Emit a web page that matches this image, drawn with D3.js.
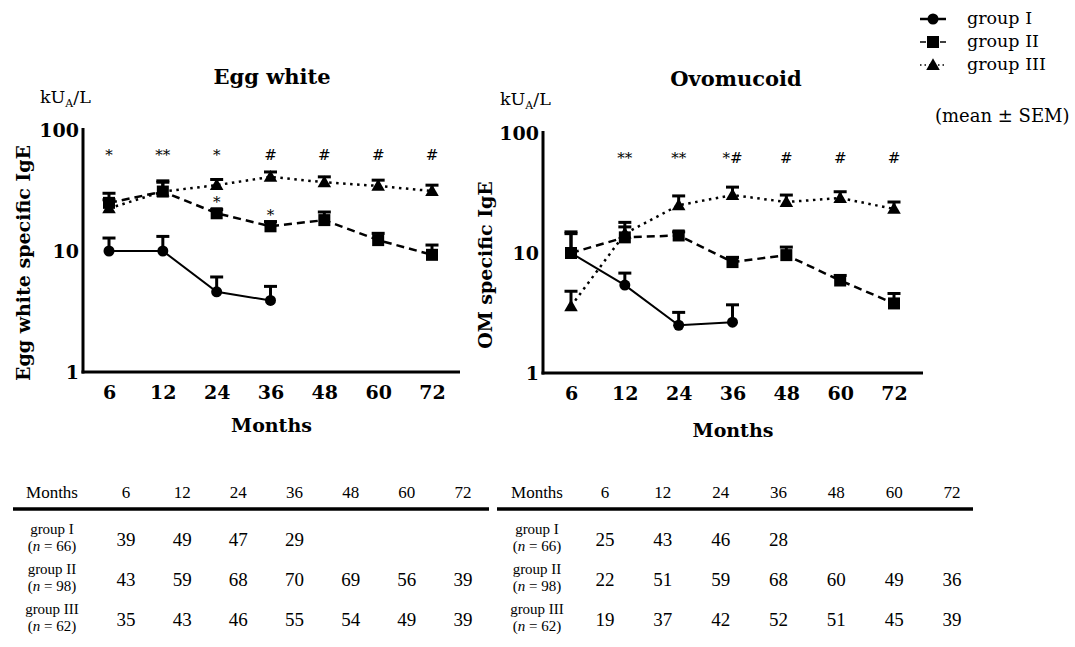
<!DOCTYPE html>
<html><head><meta charset="utf-8">
<script src="https://cdn.jsdelivr.net/npm/d3@7"></script>
<style>body{margin:0;background:#fff}svg{display:block}</style>
</head><body>
<svg id="c" width="1075" height="647"></svg>
<script>
const months = ["6","12","24","36","48","60","72"];
const groups = ["group I","group II","group III"];
const groupN = ["66","98","62"];

// Egg white specific IgE (kUA/L): mean and SEM
const ewMeanI   = [10, 10, 4.6, 3.9, null, null, null];
const ewSemI    = [2.8, 3.2, 1.5, 1.2, null, null, null];
const ewMeanII  = [25, 31, 20.5, 16, 18, 12.3, 9.3];
const ewSemII   = [5, 6, 1.5, 1.5, 3, 1.7, 1.9];
const ewMeanIII = [22.5, 31, 35, 41, 37, 34.5, 31.3];
const ewSemIII  = [4, 7, 4, 4, 4, 4, 3.7];
const ewSig     = ["*","**","*","#","#","#","#"];
const ewSig23   = ["","","*","*","","",""];

// Ovomucoid specific IgE (kUA/L)
const omMeanI   = [10, 5.4, 2.5, 2.65, null, null, null];
const omSemI    = [4.5, 1.4, 0.7, 1.05, null, null, null];
const omMeanII  = [10, 13.5, 14, 8.4, 9.6, 5.9, 3.8];
const omSemII   = [5, 3, 1, 0.8, 1.6, 0.6, 0.8];
const omMeanIII = [3.6, 14.5, 25, 30.4, 26.6, 28.7, 23.3];
const omSemIII  = [1.2, 3.5, 4.9, 5, 3.8, 3.7, 3.3];
const omSig     = ["","**","**","*#","#","#","#"];

// Numbers of patients
const ewCountI   = [39, 49, 47, 29, null, null, null];
const ewCountII  = [43, 59, 68, 70, 69, 56, 39];
const ewCountIII = [35, 43, 46, 55, 54, 49, 39];
const omCountI   = [25, 43, 46, 28, null, null, null];
const omCountII  = [22, 51, 59, 68, 60, 49, 36];
const omCountIII = [19, 37, 42, 52, 51, 45, 39];

const svg = d3.select("#c");
const SERIF = "'DejaVu Serif', serif";
const TIMES = "'Liberation Serif', 'Times New Roman', serif";

const styles = [
  {dash: null, width: 2, marker: "circle"},
  {dash: "8,5", width: 2.5, marker: "square"},
  {dash: "2.5,4.5", width: 2.5, marker: "triangle"}
];

function drawMarker(g, type, x, y) {
  if (type === "circle") g.append("circle").attr("cx", x).attr("cy", y).attr("r", 5.5).attr("fill", "#000");
  else if (type === "square") g.append("rect").attr("x", x - 6).attr("y", y - 6).attr("width", 12).attr("height", 12).attr("fill", "#000");
  else g.append("path").attr("d", d3.symbol(d3.symbolTriangle, 80)()).attr("transform", `translate(${x},${y + 1})`).attr("fill", "#000");
}

function panel(o) {
  const g = svg.append("g");
  const x = d3.scalePoint().domain(months).range(o.xr);
  const y = d3.scaleLog().domain([1, 100]).range(o.yr);

  // axes
  const ya = d3.axisLeft(y).tickValues([1, 10, 100]).tickFormat(d3.format("d")).tickSize(0).tickPadding(4);
  const yg = g.append("g").attr("transform", `translate(${o.ax},0)`).call(ya);
  yg.select(".domain").remove();
  yg.selectAll("text").attr("font-family", SERIF).attr("font-weight", "bold").attr("font-size", 19).attr("fill", "#000");
  g.append("line").attr("x1", o.ax).attr("x2", o.ax).attr("y1", o.yr[1] - 2).attr("y2", o.yr[0] + 1.5).attr("stroke", "#000").attr("stroke-width", 3);

  const xa = d3.axisBottom(x).tickSize(0).tickPadding(14);
  const xg = g.append("g").attr("transform", `translate(0,${o.yr[0]})`).call(xa);
  xg.select(".domain").remove();
  xg.selectAll("text").attr("font-family", SERIF).attr("font-weight", "bold").attr("font-size", 19).attr("fill", "#000");
  g.append("line").attr("x1", o.ax - 1.5).attr("x2", o.axEnd).attr("y1", o.yr[0]).attr("y2", o.yr[0]).attr("stroke", "#000").attr("stroke-width", 3);

  // titles
  g.append("text").attr("x", o.titleX).attr("y", o.titleY).attr("text-anchor", "middle")
    .attr("font-family", SERIF).attr("font-weight", "bold").attr("font-size", 21).text(o.title);
  const u = g.append("text").attr("x", o.unitX).attr("y", o.titleY + 19).attr("font-family", SERIF).attr("font-size", 17.5);
  u.append("tspan").text("kU");
  u.append("tspan").attr("font-size", 11).attr("dy", 4).text("A");
  u.append("tspan").attr("dy", -4).text("/L");
  g.append("text").attr("transform", `translate(${o.ylabX},${o.ylabY}) rotate(-90)`).attr("text-anchor", "middle")
    .attr("font-family", SERIF).attr("font-weight", "bold").attr("font-size", 19).text(o.ylab);
  g.append("text").attr("x", (o.ax + o.axEnd) / 2).attr("y", o.yr[0] + o.monthsDy).attr("text-anchor", "middle")
    .attr("font-family", SERIF).attr("font-weight", "bold").attr("font-size", 19).text("Months");

  // series (draw III, II, I)
  [2, 1, 0].forEach(k => {
    const mean = o.means[k], sem = o.sems[k], st = styles[k];
    const pts = months.map((m, i) => ({m, v: mean[i], s: sem[i]})).filter(d => d.v != null);
    const line = d3.line().x(d => x(d.m)).y(d => y(d.v));
    g.append("path").attr("d", line(pts)).attr("fill", "none").attr("stroke", "#000")
      .attr("stroke-width", st.width).attr("stroke-dasharray", st.dash);
    pts.forEach(d => {
      const top = y(d.v + d.s);
      g.append("line").attr("x1", x(d.m)).attr("x2", x(d.m)).attr("y1", y(d.v)).attr("y2", top).attr("stroke", "#000").attr("stroke-width", 3);
      g.append("line").attr("x1", x(d.m) - 6.5).attr("x2", x(d.m) + 6.5).attr("y1", top).attr("y2", top).attr("stroke", "#000").attr("stroke-width", 3);
      drawMarker(g, st.marker, x(d.m), y(d.v));
    });
  });

  // significance
  months.forEach((m, i) => {
    if (o.sig[i]) g.append("text").attr("x", x(m)).attr("y", o.sigY).attr("text-anchor", "middle")
      .attr("font-family", SERIF).attr("font-size", 15).text(o.sig[i]);
    if (o.sig2 && o.sig2[i]) g.append("text").attr("x", x(m)).attr("y", y(o.means[1][i]) - 6).attr("text-anchor", "middle")
      .attr("font-family", SERIF).attr("font-size", 15).text(o.sig2[i]);
  });
}

panel({xr: [109, 432], yr: [372, 130], ax: 83, axEnd: 460, title: "Egg white", titleX: 272, titleY: 84, unitX: 40,
  ylab: "Egg white specific IgE", ylabX: 30, ylabY: 263, monthsDy: 60, sigY: 160,
  means: [ewMeanI, ewMeanII, ewMeanIII], sems: [ewSemI, ewSemII, ewSemIII], sig: ewSig, sig2: ewSig23});
panel({xr: [571, 894], yr: [373, 133], ax: 543, axEnd: 923, title: "Ovomucoid", titleX: 736, titleY: 86, unitX: 500,
  ylab: "OM specific IgE", ylabX: 492, ylabY: 265, monthsDy: 64, sigY: 163,
  means: [omMeanI, omMeanII, omMeanIII], sems: [omSemI, omSemII, omSemIII], sig: omSig});

// legend
const lg = svg.append("g");
groups.forEach((gname, k) => {
  const yy = 19 + k * 23;
  const st = styles[k];
  lg.append("line").attr("x1", 920).attr("x2", 946).attr("y1", yy).attr("y2", yy).attr("stroke", "#000")
    .attr("stroke-width", k === 0 ? 2.5 : 1.5).attr("stroke-dasharray", k === 0 ? null : (k === 1 ? "6,14,6" : "1.5,3"));
  drawMarker(lg, st.marker, 933, yy);
  lg.append("text").attr("x", 967).attr("y", yy + 5).attr("font-family", SERIF).attr("font-size", 17.5).text(gname);
});
lg.append("text").attr("x", 935).attr("y", 122).attr("font-family", SERIF).attr("font-size", 18).text("(mean \u00B1 SEM)");

// tables
function table(o) {
  const t = svg.append("g").attr("font-family", TIMES);
  const x = d3.scalePoint().domain(months).range(o.cols);
  t.append("text").attr("x", o.labX).attr("y", 498).attr("font-size", 17).attr("text-anchor", "middle").text("Months");
  months.forEach(m => t.append("text").attr("x", x(m)).attr("y", 498).attr("font-size", 17).attr("text-anchor", "middle").text(m));
  t.append("line").attr("x1", o.lx1).attr("x2", o.lx2).attr("y1", 509).attr("y2", 509).attr("stroke", "#000").attr("stroke-width", 3.5);
  const rowsY = [539, 579, 619];
  o.rows.forEach((row, r) => {
    const cy = rowsY[r];
    t.append("text").attr("x", o.labX).attr("y", cy - 5.5).attr("font-size", 15).attr("text-anchor", "middle").text(groups[r]);
    const n = t.append("text").attr("x", o.labX).attr("y", cy + 12).attr("font-size", 15).attr("text-anchor", "middle");
    n.append("tspan").text("(");
    n.append("tspan").attr("font-style", "italic").text("n");
    n.append("tspan").text(" = " + groupN[r] + ")");
    row.forEach((v, i) => { if (v != null) t.append("text").attr("x", x(months[i])).attr("y", cy + 6.5).attr("font-size", 19).attr("text-anchor", "middle").text(v); });
  });
}
table({cols: [126, 463], labX: 52, lx1: 13, lx2: 489, rows: [ewCountI, ewCountII, ewCountIII]});
table({cols: [605, 952], labX: 537, lx1: 497, lx2: 973, rows: [omCountI, omCountII, omCountIII]});
</script>
</body></html>
